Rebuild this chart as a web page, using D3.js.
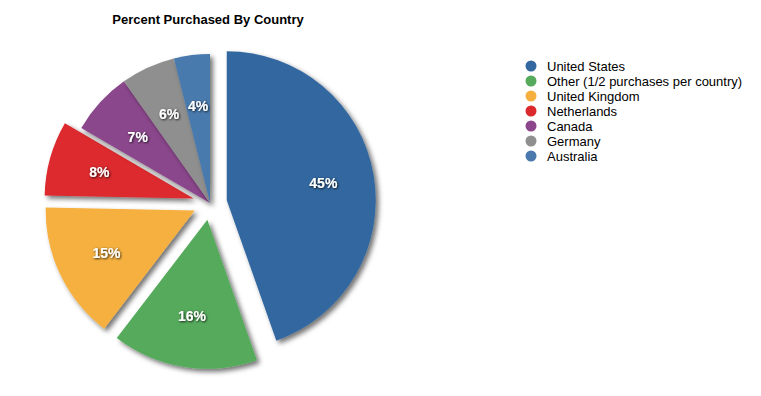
<!DOCTYPE html>
<html>
<head>
<meta charset="utf-8">
<script src="https://cdn.jsdelivr.net/npm/d3@7"></script>
<style>
  body { margin: 0; background: #fff; }
  svg { font-family: "Liberation Sans", Arial, sans-serif; }
</style>
</head>
<body>
<svg id="chart"></svg>
<script>
// data
const countries = ["United States", "Other (1/2 purchases per country)", "United Kingdom",
                   "Netherlands", "Canada", "Germany", "Australia"];
const percents = [44.6, 15.8, 14.9, 8.1, 6.8, 5.9, 3.9];
const colors = ["#32679f", "#56aa5c", "#f5b040", "#dc292e", "#8b468c", "#8e8f8e", "#4a7aad"];
const exploded = [true, true, true, true, false, false, false];

const width = 761, height = 396;
const radius = 149, pull = 17;
const cx = 210, cy = 203;

let svg = d3.select("#chart")
    .attr("width", width)
    .attr("height", height);

// shadows for slices and labels
let defs = svg.append("defs");
defs.append("filter")
    .attr("id", "sliceShadow")
    .attr("x", "-20%").attr("y", "-20%")
    .attr("width", "150%").attr("height", "150%")
  .append("feDropShadow")
    .attr("dx", 3).attr("dy", 3)
    .attr("stdDeviation", 2.5)
    .attr("flood-color", "#000")
    .attr("flood-opacity", 0.55);
defs.append("filter")
    .attr("id", "textShadow")
  .append("feDropShadow")
    .attr("dx", 0.8).attr("dy", 0.8)
    .attr("stdDeviation", 0.8)
    .attr("flood-color", "#000")
    .attr("flood-opacity", 0.9);

// title
svg.append("text")
    .attr("x", 208)
    .attr("y", 24)
    .attr("font-size", "13px")
    .attr("font-weight", "bold")
    .style("text-anchor", "middle")
    .text("Percent Purchased By Country");

let pie = d3.pie().sort(null).value(d => d)(percents);
let arc = d3.arc().innerRadius(0).outerRadius(radius);
let labelArc = d3.arc().innerRadius(98).outerRadius(98);

let g = svg.append("g")
    .attr("transform", `translate(${cx},${cy})`);

let slices = g.selectAll(".slice")
  .data(pie)
  .enter()
  .append("g")
    .classed("slice", true)
    .attr("transform", (d, i) => {
      if (!exploded[i]) return null;
      let mid = (d.startAngle + d.endAngle) / 2;
      return `translate(${pull * Math.sin(mid)},${-pull * Math.cos(mid)})`;
    });

slices.append("path")
    .attr("d", arc)
    .attr("fill", (d, i) => colors[i])
    .attr("filter", "url(#sliceShadow)");

slices.append("text")
    .attr("transform", d => `translate(${labelArc.centroid(d)})`)
    .attr("dy", "0.35em")
    .attr("font-size", "14px")
    .attr("font-weight", "bold")
    .attr("fill", "#fff")
    .attr("filter", "url(#textShadow)")
    .style("text-anchor", "middle")
    .text(d => Math.round(d.data) + "%");

// legend
let legend = svg.append("g")
    .attr("transform", "translate(531,66)");

let rows = legend.selectAll(".legend-row")
  .data(countries)
  .enter()
  .append("g")
    .classed("legend-row", true)
    .attr("transform", (d, i) => `translate(0,${i * 15})`);

rows.append("circle")
    .attr("r", 5.5)
    .attr("fill", (d, i) => colors[i]);

rows.append("text")
    .attr("x", 16)
    .attr("dy", "0.35em")
    .attr("font-size", "13px")
    .attr("fill", "#000")
    .text(d => d);
</script>
</body>
</html>
